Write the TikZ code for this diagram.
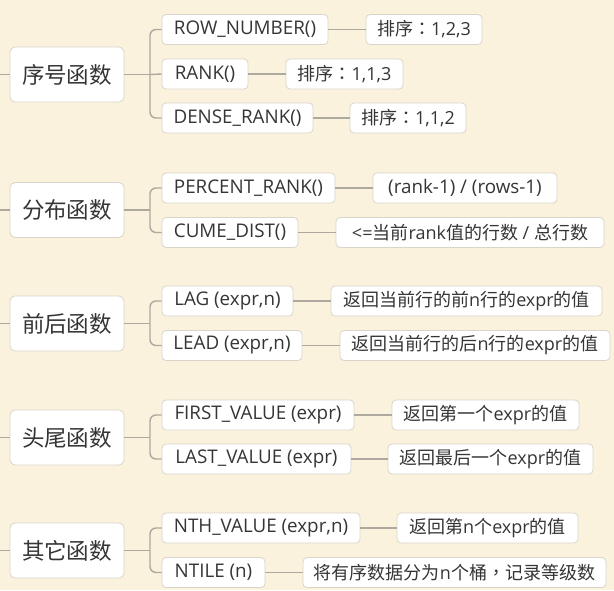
\documentclass[tikz,border=0pt]{standalone}
\usepackage{fontspec}
\setmainfont{Noto Sans CJK SC}
\newfontfamily\lat{Open Sans}
\newfontfamily\tcf{Noto Sans CJK TC}
\definecolor{bgc}{HTML}{FAF2DC}
\definecolor{edgec}{HTML}{ADA99E}
\definecolor{boxline}{HTML}{D9D5CB}
\definecolor{txt}{HTML}{353535}
\tikzset{
  grp/.style={draw=boxline, line width=0.8pt, fill=white, rounded corners=5pt, minimum height=55pt, minimum width=114pt, inner sep=0pt, text=txt, font=\fontsize{22.5}{25}\selectfont},
  fn/.style={draw=boxline, line width=0.8pt, fill=white, rounded corners=4pt, minimum height=30pt, inner sep=0pt, text=txt, font=\fontsize{18}{20}\selectfont},
  fnl/.style={fn, font=\lat\fontsize{18.8}{20}\selectfont},
  link/.style={draw=edgec, line width=1.4pt},
  branch/.style={link, rounded corners=6pt}
}
\begin{document}
\begin{tikzpicture}[x=1pt,y=-1pt]
\fill[bgc] (0,0) rectangle (614,590);
\useasboundingbox (0,0) rectangle (614,590);

% group 1
\node[grp] (g1) at (67,74.5) {序号函数};
\node[fnl, minimum width=166pt] (a1) at (245,29.5) {ROW\_NUMBER()};
\node[fn, minimum width=116pt] (b1) at (424,29.5) {排序{\tcf ：}{\lat 1,2,3}};
\node[fnl, minimum width=86pt] (a2) at (205,74) {RANK()};
\node[fn, minimum width=117pt] (b2) at (344.5,74) {排序{\tcf ：}{\lat 1,1,3}};
\node[fnl, minimum width=151pt] (a3) at (237.5,118) {DENSE\_RANK()};
\node[fn, minimum width=116pt] (b3) at (408,118) {排序{\tcf ：}{\lat 1,1,2}};
\coordinate (l1) at (0,74.5);
\coordinate (j1) at (150,74.5);

% group 2
\node[grp] (g2) at (67,210) {分布函数};
\node[fnl, minimum width=173pt] (a4) at (248.5,188) {PERCENT\_RANK()};
\node[fnl, minimum width=184pt] (b4) at (465,188) {(rank-1) / (rows-1)};
\node[fnl, minimum width=136pt] (a5) at (230,232.5) {CUME\_DIST()};
\node[fn, minimum width=268pt] (b5) at (470,232.5) {{\lat <=}当前{\lat rank}值的行数{\lat\ / }总行数};
\coordinate (l2) at (0,210);
\coordinate (j2) at (150,210);

% group 3
\node[grp] (g3) at (67,323.5) {前后函数};
\node[fnl, minimum width=131pt] (a6) at (227.5,301) {LAG (expr,n)};
\node[fn, minimum width=271pt] (b6) at (466.5,301) {返回当前行的前{\lat n}行的{\lat expr}的值};
\node[fnl, minimum width=140pt] (a7) at (232,345.5) {LEAD (expr,n)};
\node[fn, minimum width=270pt] (b7) at (475,345.5) {返回当前行的后{\lat n}行的{\lat expr}的值};
\coordinate (l3) at (0,323.5);
\coordinate (j3) at (150,323.5);

% group 4
\node[grp] (g4) at (67,437.5) {头尾函数};
\node[fnl, minimum width=192pt] (a8) at (258,415) {FIRST\_VALUE (expr)};
\node[fn, minimum width=187pt] (b8) at (485.5,415) {返回第一个{\lat expr}的值};
\node[fnl, minimum width=189pt] (a9) at (256.5,459) {LAST\_VALUE (expr)};
\node[fn, minimum width=205pt] (b9) at (490.5,459) {返回最后一个{\lat expr}的值};
\coordinate (l4) at (0,437.5);
\coordinate (j4) at (150,437.5);

% group 5
\node[grp] (g5) at (67,550.5) {其它函数};
\node[fnl, minimum width=198pt] (a10) at (261,528) {NTH\_VALUE (expr,n)};
\node[fn, minimum width=181pt] (b10) at (487.5,528) {返回第{\lat n}个{\lat expr}的值};
\node[fnl, minimum width=103pt] (a11) at (213.5,572.5) {NTILE (n)};
\node[fn, minimum width=303pt] (b11) at (454.5,572.5) {将有序数据分为{\lat n}个桶{\tcf ，}记录等级数};
\coordinate (l5) at (0,550.5);
\coordinate (j5) at (150,550.5);

% connectors
\draw[link] (l1) -- (g1.west);
\draw[link] (g1.east) -- (j1);
\draw[branch] (j1) |- (a1.west);
\draw[link] (j1) -- (a2.west);
\draw[branch] (j1) |- (a3.west);
\draw[link] (a1.east) -- (b1.west);
\draw[link] (a2.east) -- (b2.west);
\draw[link] (a3.east) -- (b3.west);

\draw[link] (l2) -- (g2.west);
\draw[link] (g2.east) -- (j2);
\draw[branch] (j2) |- (a4.west);
\draw[branch] (j2) |- (a5.west);
\draw[link] (a4.east) -- (b4.west);
\draw[link] (a5.east) -- (b5.west);

\draw[link] (l3) -- (g3.west);
\draw[link] (g3.east) -- (j3);
\draw[branch] (j3) |- (a6.west);
\draw[branch] (j3) |- (a7.west);
\draw[link] (a6.east) -- (b6.west);
\draw[link] (a7.east) -- (b7.west);

\draw[link] (l4) -- (g4.west);
\draw[link] (g4.east) -- (j4);
\draw[branch] (j4) |- (a8.west);
\draw[branch] (j4) |- (a9.west);
\draw[link] (a8.east) -- (b8.west);
\draw[link] (a9.east) -- (b9.west);

\draw[link] (l5) -- (g5.west);
\draw[link] (g5.east) -- (j5);
\draw[branch] (j5) |- (a10.west);
\draw[branch] (j5) |- (a11.west);
\draw[link] (a10.east) -- (b10.west);
\draw[link] (a11.east) -- (b11.west);
\end{tikzpicture}
\end{document}
